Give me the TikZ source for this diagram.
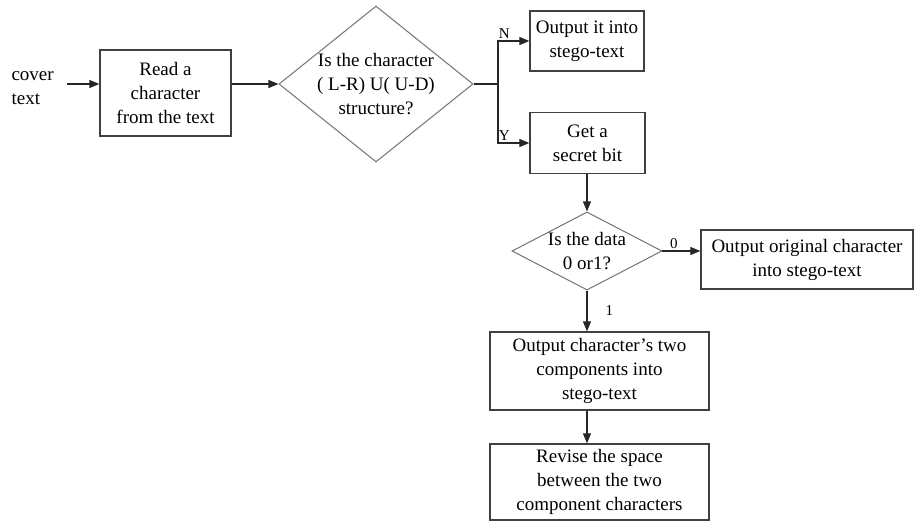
\documentclass[tikz,border=0pt]{standalone}
\usepackage{fontspec}
\setmainfont{Liberation Serif}
\usetikzlibrary{shapes.geometric,arrows.meta}
\tikzset{
  txt/.style={font=\fontsize{19}{24}\selectfont, align=center},
  box/.style={txt, draw=black!75, line width=1.3pt, inner sep=0pt},
  decision/.style={txt, diamond, draw=black!55, line width=1pt, inner sep=0pt},
  arr/.style={-{Triangle[length=10pt,width=8pt]}, draw=black!85, line width=1.2pt},
  lbl/.style={font=\fontsize{15}{17}\selectfont, inner sep=2pt}
}
\begin{document}
\begin{tikzpicture}[x=1pt,y=-1pt]
  \useasboundingbox (0,0) rectangle (914,521);
  \node[txt, align=left, anchor=west] (cover) at (8,88) {cover\\text};
  \node[box, minimum width=131pt, minimum height=86pt] (read) at (165.5,93) {Read a\\character\\from the text};
  \node[decision, aspect=1.245, minimum width=193pt, minimum height=155pt] (d1) at (376,84) {Is the character\\( L-R) U( U-D)\\structure?};
  \node[box, minimum width=114pt, minimum height=60pt] (outN) at (587,41) {Output it into\\stego-text};
  \node[box, minimum width=115pt, minimum height=61pt] (getbit) at (587.5,143) {Get a\\secret bit};
  \node[decision, aspect=1.92, minimum width=146pt, minimum height=76pt] (d2) at (587,251) {Is the data\\0 or1?};
  \node[box, minimum width=212pt, minimum height=59pt] (orig) at (807,259.5) {Output original character\\into stego-text};
  \node[box, minimum width=219pt, minimum height=78pt] (comp) at (599.5,371) {Output character's two\\components into\\stego-text};
  \node[box, minimum width=219pt, minimum height=76pt] (revise) at (599.5,482) {Revise the space\\between the two\\component characters};
  \coordinate (split) at (498,84);
  \draw[arr] ([xshift=10pt]cover.east |- d1.west) -- (read.west |- d1.west);
  \draw[arr] (read.east |- d1.west) -- (d1.west);
  \draw[draw=black!85, line width=1.2pt] (d1.east) -- (split);
  \draw[arr] (split) |- (outN.west) node[lbl, pos=0.6, above] {N};
  \draw[arr] (split) |- (getbit.west) node[lbl, pos=0.6, above] {Y};
  \draw[arr] (getbit.south -| d2.north) -- (d2.north);
  \draw[arr] (d2.east) -- (d2.east -| orig.west) node[lbl, pos=0.3, above] {0};
  \draw[arr] (d2.south) -- (d2.south |- comp.north) node[lbl, midway, right=16pt] {1};
  \draw[arr] (comp.south -| d2.south) -- (revise.north -| d2.south);
\end{tikzpicture}
\end{document}
